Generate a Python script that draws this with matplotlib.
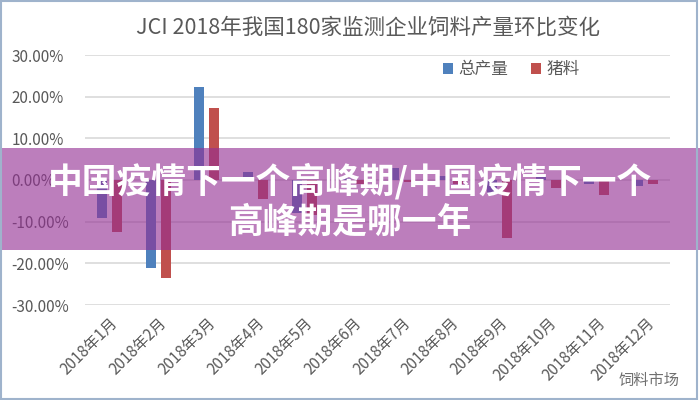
import matplotlib
matplotlib.use("Agg")
import matplotlib.pyplot as plt
from matplotlib.patches import Rectangle
import numpy as np

plt.rcParams['font.family'] = ['Noto Sans CJK SC', 'DejaVu Sans']

categories = ["2018年1月", "2018年2月", "2018年3月", "2018年4月", "2018年5月", "2018年6月",
              "2018年7月", "2018年8月", "2018年9月", "2018年10月", "2018年11月", "2018年12月"]
total_output = [-9.0, -21.0, 22.3, 2.0, -8.0, 0.5, 3.0, 1.0, -3.0, 1.0, -1.0, -1.5]
pig_feed = [-12.5, -23.5, 17.3, -4.5, -8.5, -1.0, -0.5, -1.0, -14.0, -2.0, -3.5, -1.0]
series_names = ["总产量", "猪料"]
yticks = [-30, -20, -10, 0, 10, 20, 30]

title = "JCI 2018年我国180家监测企业饲料产量环比变化"
banner_line1 = "中国疫情下一个高峰期/中国疫情下一个"
banner_line2 = "高峰期是哪一年"
watermark = "饲料市场"

gray = '#595959'
blue = '#4F81BD'
red = '#C0504D'

fig = plt.figure(figsize=(7, 4), dpi=100)
fig.patch.set_facecolor('white')
ax = fig.add_axes([85/700, 1-305/400, (670-85)/700, 250/400])

x = np.arange(len(categories))
w = 0.205
ax.bar(x - 0.155, total_output, width=w, color=blue, label=series_names[0], zorder=3)
ax.bar(x + 0.155, pig_feed, width=w, color=red, label=series_names[1], zorder=3)

ax.set_xlim(-0.5, len(categories) - 0.5)
ax.set_ylim(-30, 30)
ax.set_yticks(yticks)
ax.set_yticklabels([f"{v:.2f}%" for v in yticks], color=gray, fontsize=11)
ax.yaxis.grid(True, color='#d9d9d9', linewidth=1.2, zorder=0)
ax.set_axisbelow(True)
for s in ax.spines.values():
    s.set_visible(False)
ax.tick_params(axis='both', length=0)
for lbl in ax.get_yticklabels():
    lbl.set_horizontalalignment('left')
ax.tick_params(axis='y', pad=53)

ax.set_xticks(x)
ax.set_xticklabels(categories, rotation=45, ha='right', rotation_mode='anchor',
                   color=gray, fontsize=11)
ax.tick_params(axis='x', pad=7)

fig.text(368/700, 1-28/400, title, ha='center', va='center', color=gray, fontsize=15.5)

leg = ax.legend(loc='upper left', bbox_to_anchor=((428-85)/585, 1.035), ncol=2, frameon=False,
                handlelength=0.6, handleheight=0.6, handletextpad=0.3, columnspacing=1.4,
                fontsize=12)
for t in leg.get_texts():
    t.set_color(gray)

# overlay banner
fig.patches.append(Rectangle((0, 1-250/400), 1, 102/400, transform=fig.transFigure,
                             facecolor='#932F93', alpha=0.62, edgecolor='none', zorder=10))
fig.text(0.5, 1-181/400, banner_line1, ha='center', va='center', color='white',
         fontsize=25, fontweight='heavy', zorder=11)
fig.text(0.5, 1-222/400, banner_line2, ha='center', va='center', color='white',
         fontsize=25, fontweight='heavy', zorder=11)

fig.text(680/700, 1-380/400, watermark, ha='right', va='center', color='#707070',
         fontsize=11, zorder=11)

# image border
fig.patches.append(Rectangle((0.002, 0.003), 0.994, 0.994, transform=fig.transFigure,
                             facecolor='none', edgecolor='#9fb3cc', linewidth=1.5, zorder=12))

fig.savefig('out.png', dpi=100)
